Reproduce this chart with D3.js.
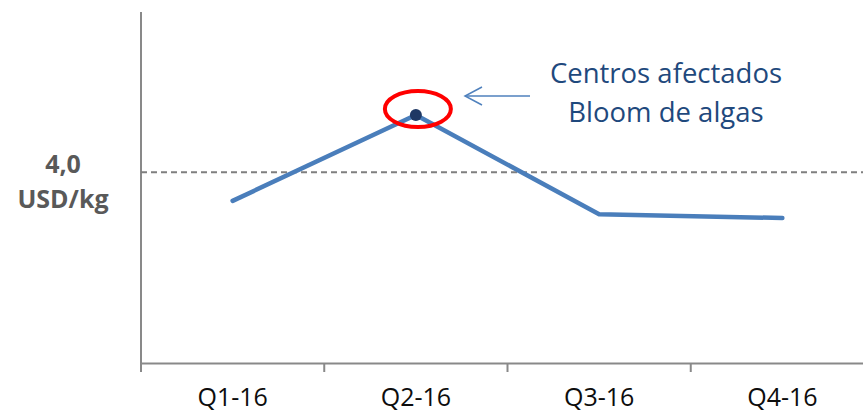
<!DOCTYPE html>
<html><head><meta charset="utf-8">
<script src="https://cdn.jsdelivr.net/npm/d3@7"></script>
<style>body{margin:0;background:#fff}svg{display:block}</style>
</head><body>
<svg id="c" width="863" height="413"></svg>
<script>
const categories = ["Q1-16","Q2-16","Q3-16","Q4-16"];
const prices = [3.85, 4.30, 3.78, 3.76];
const refValue = 4.0;
const refLabel = ["4,0","USD/kg"];
const highlightIndex = 1;
const annotation = ["Centros afectados","Bloom de algas"];

const svg = d3.select("#c");
const F = "'Open Sans', 'Noto Sans', sans-serif";
const x = d3.scaleBand().domain(categories).range([141, 874]).padding(0);
const y = d3.scaleLinear().domain([3.0, 4.84]).range([363, 12]);
const axisCol = "#898989";

// y axis
svg.append("line").attr("x1",141).attr("x2",141).attr("y1",y.range()[1]).attr("y2",y.range()[0])
  .attr("stroke",axisCol).attr("stroke-width",2);

// x axis
const xa = svg.append("g").attr("transform","translate(0,363)")
  .call(d3.axisBottom(x).tickSize(0));
xa.select(".domain").attr("stroke",axisCol).attr("stroke-width",2);
xa.selectAll("text").attr("y",43).attr("dy",0).attr("font-family",F).attr("font-size",25).attr("fill","#0d0d0d");
const bounds = categories.map(c=>x(c)).concat([x.range()[1]]);
svg.append("g").selectAll("line").data(bounds).join("line")
  .attr("x1",d=>d).attr("x2",d=>d).attr("y1",363).attr("y2",372)
  .attr("stroke",axisCol).attr("stroke-width",2);

// reference dashed line
svg.append("line").attr("x1",141).attr("x2",863).attr("y1",y(refValue)).attr("y2",y(refValue))
  .attr("stroke","#7f7f7f").attr("stroke-width",2).attr("stroke-dasharray","6,4");
svg.append("text").attr("x",63).attr("y",173).attr("text-anchor","middle")
  .attr("font-family",F).attr("font-weight","bold").attr("font-size",25).attr("fill","#595959")
  .text(refLabel[0]);
svg.append("text").attr("x",63).attr("y",208).attr("text-anchor","middle")
  .attr("font-family",F).attr("font-weight","bold").attr("font-size",25).attr("fill","#595959")
  .text(refLabel[1]);

// line
const cx = d=>x(d)+x.bandwidth()/2;
svg.append("path").datum(prices)
  .attr("d", d3.line().x((d,i)=>cx(categories[i])).y(d=>y(d)))
  .attr("fill","none").attr("stroke","#4a7ebb").attr("stroke-width",4.5)
  .attr("stroke-linejoin","round").attr("stroke-linecap","round");

// highlight
const hx = cx(categories[highlightIndex]), hy = y(prices[highlightIndex]);
svg.append("circle").attr("cx",hx).attr("cy",hy).attr("r",6).attr("fill","#1f3864");
svg.append("ellipse").attr("cx",hx+2).attr("cy",hy-6).attr("rx",33).attr("ry",18)
  .attr("fill","none").attr("stroke","#ff0000").attr("stroke-width",4);

// arrow
const ay = hy-19;
const ag = svg.append("g").attr("stroke","#4f81bd").attr("stroke-width",1.5).attr("fill","none");
ag.append("line").attr("x1",530).attr("x2",465).attr("y1",ay).attr("y2",ay);
ag.append("polyline").attr("points",`${482},${ay-9} ${465},${ay} ${482},${ay+9}`);

// annotation text
svg.append("text").attr("x",666).attr("y",83).attr("text-anchor","middle")
  .attr("font-family",F).attr("font-size",27.5).attr("fill","#1f497d").text(annotation[0]);
svg.append("text").attr("x",666).attr("y",122).attr("text-anchor","middle")
  .attr("font-family",F).attr("font-size",27.5).attr("fill","#1f497d").text(annotation[1]);
</script>
</body></html>
